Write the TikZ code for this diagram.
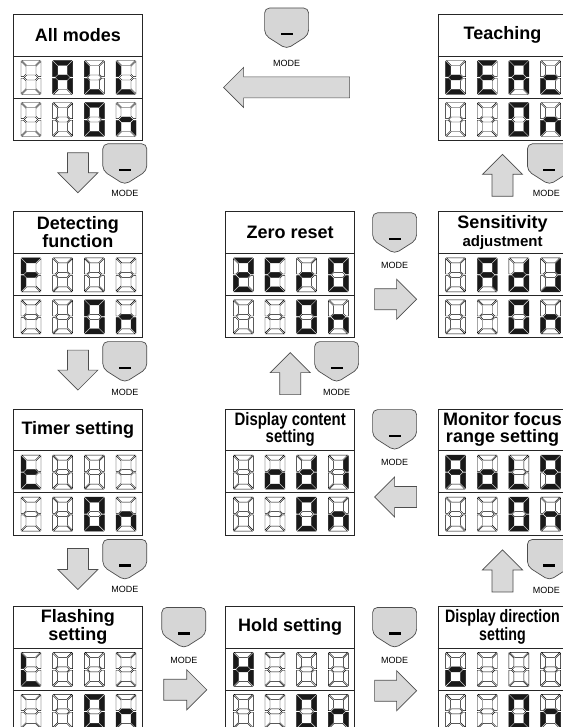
\documentclass[tikz,border=0pt]{standalone}
\usepackage{fontspec}
\setmainfont{Liberation Sans}
\newfontfamily\narrowsans[FakeStretch=0.83]{Liberation Sans}
\newfontfamily\narrowersans[FakeStretch=0.79]{Liberation Sans}
\usetikzlibrary{positioning, calc}
\definecolor{keygray}{RGB}{214,214,214}
\definecolor{arrowgray}{RGB}{217,217,217}
\definecolor{edgegray}{RGB}{77,77,77}
\definecolor{segdark}{RGB}{25,25,25}
\tikzset{
  lcd/panel/.style={rectangle, draw=black!85, fill=white, line width=0.8pt,
    minimum width=129pt, minimum height=126pt, inner sep=0pt},
  lcd/rule/.style={draw=black!85, line width=0.8pt},
  lcd/title/.style={font=\bfseries\fontsize{18}{17.5}\selectfont,
    align=center, inner sep=0pt},
  lcd/narrow/.style={font=\narrowsans\bfseries\fontsize{18}{17.5}\selectfont},
  lcd/narrower/.style={font=\narrowersans\bfseries\fontsize{18}{17.5}\selectfont},
  lcd/on/.style={fill=segdark, draw=segdark, line width=0.4pt},
  lcd/off/.style={fill=white, draw=black, line width=0.4pt},
  key/face/.style={fill=keygray, draw=edgegray, line width=0.7pt,
    rounded corners=5pt},
  key/lbl/.style={font=\fontsize{9}{9}\selectfont, inner sep=0pt},
  blk/face/.style={fill=arrowgray, draw=edgegray, line width=0.7pt},
  blkarrow/.pic={
    \draw[blk/face] (0,-10.5) -- (#1-20,-10.5) -- (#1-20,-20) -- (#1,0)
      -- (#1-20,20) -- (#1-20,10.5) -- (0,10.5) -- cycle;},
  modekey/.pic={
    \draw[key/face] (0,41) -- (-22,27) -- (-22,0) -- (22,0) -- (22,27) -- cycle;
    \fill (-6,25) rectangle (6,27.5);
    \node[key/lbl] (-lbl) at (#1) {MODE};}
}
\makeatletter
\newcommand\lcdtest[2]{\in@{#2}{#1}}
\newcommand\lcdseg[2]{%
  \expandafter\lcdtest\expandafter{\lcdlit}{#1}%
  \ifin@\filldraw[lcd/on] #2;\else\filldraw[lcd/off] #2;\fi}
\makeatother
\newcommand\lcddigit[1]{%
  \edef\lcdlit{#1}%
  \lcdseg{a}{(0.8,0) -- (19.2,0) -- (14.2,5) -- (5.8,5) -- cycle}%
  \lcdseg{b}{(20,0.8) -- (15,5.8) -- (15,13.7) -- (17.5,16.2) -- (20,16.2) -- cycle}%
  \lcdseg{c}{(20,17.8) -- (17.5,17.8) -- (15,20.3) -- (15,28.2) -- (20,33.2) -- cycle}%
  \lcdseg{d}{(0.8,34) -- (19.2,34) -- (14.2,29) -- (5.8,29) -- cycle}%
  \lcdseg{e}{(0,17.8) -- (2.5,17.8) -- (5,20.3) -- (5,28.2) -- (0,33.2) -- cycle}%
  \lcdseg{f}{(0,0.8) -- (5,5.8) -- (5,13.7) -- (2.5,16.2) -- (0,16.2) -- cycle}%
  \lcdseg{g}{(3.3,17) -- (5.8,14.5) -- (14.2,14.5) -- (16.7,17) -- (14.2,19.5) -- (5.8,19.5) -- cycle}}
\newcommand\lcdpanel[6][]{%
  \node[lcd/panel, #3] (#2) {};
  \draw[lcd/rule] ($(#2.north west)+(0,42)$) -- ($(#2.north east)+(0,42)$);
  \draw[lcd/rule] ($(#2.north west)+(0,84)$) -- ($(#2.north east)+(0,84)$);
  \node[lcd/title, #1] (#2-t) at ($(#2.north)+(0,21)$) {#4};
  \foreach \dg [count=\i from 0] in {#5} {
    \begin{scope}[shift={($(#2.north west)+(8+31.67*\i,46.5)$)}]
      \lcddigit{\dg}
    \end{scope}}
  \foreach \dg [count=\i from 0] in {#6} {
    \begin{scope}[shift={($(#2.north west)+(8+31.67*\i,88.5)$)}]
      \lcddigit{\dg}
    \end{scope}}}
\begin{document}
\begin{tikzpicture}[x=1pt, y=-1pt, node distance=70.5pt and 82.5pt]
  \useasboundingbox[fill=white] (0,0) rectangle (562,727);

  \lcdpanel{allm}{anchor=north west, at={(13,14)}}{All modes}{x,abcefg,def,def}{x,x,abcdef,ceg}
  \lcdpanel{detect}{below=of allm}{Detecting\\function}{aefg,x,x,x}{x,x,abcdef,ceg}
  \lcdpanel{timer}{below=of detect}{Timer setting}{defg,x,x,x}{x,x,abcdef,ceg}
  \lcdpanel{flash}{below=of timer}{Flashing\\setting}{def,x,x,x}{x,x,abcdef,ceg}
  \lcdpanel{hold}{right=of flash}{Hold setting}{bcefg,x,x,x}{x,x,abcdef,ceg}
  \lcdpanel[lcd/narrower]{dirset}{right=of hold}{Display direction\\setting}{cdeg,x,x,x}{x,x,abcdef,ceg}
  \lcdpanel{monitor}{above=of dirset}{Monitor focus\\range setting}{abcefg,cdeg,def,abcdfg}{x,x,abcdef,ceg}
  \lcdpanel[lcd/narrow]{content}{left=of monitor}{Display content\\setting}{x,cdeg,bcdeg,bc}{x,x,abcdef,ceg}
  \lcdpanel{zero}{above=of content}{Zero reset}{abdeg,adefg,eg,abcdef}{x,x,abcdef,ceg}
  \lcdpanel{sens}{right=of zero}{Sensitivity\\{\fontsize{15}{15}\selectfont adjustment}}{x,abcefg,bcdeg,bcd}{x,x,abcdef,ceg}
  \lcdpanel{teach}{above=of sens}{Teaching}{defg,adefg,abcefg,deg}{x,x,abcdef,ceg}

  \pic[rotate=180] at ($(teach.west)+(-88,10)$) {blkarrow=126};
  \pic[rotate=-90] at ($(allm.south)+(0,12)$) {blkarrow=40};
  \pic[rotate=-90] at ($(detect.south)+(0,12)$) {blkarrow=40};
  \pic[rotate=-90] at ($(timer.south)+(0,13)$) {blkarrow=41};
  \pic at ($(flash.east)+(21,20.5)$) {blkarrow=43};
  \pic at ($(hold.east)+(19.5,21.5)$) {blkarrow=42};
  \pic[rotate=90] at ($(dirset.north)+(0,-14)$) {blkarrow=42};
  \pic[rotate=180] at ($(monitor.west)+(-21,25)$) {blkarrow=42};
  \pic[rotate=90] at ($(content.north)+(0,-14)$) {blkarrow=42};
  \pic at ($(zero.east)+(19.5,24.5)$) {blkarrow=42};
  \pic[rotate=90] at ($(sens.north)+(0,-15)$) {blkarrow=42};

  \pic (k1) at ($(teach.north west)+(-151,-6)$) {modekey={0,55}};
  \pic (k2) at ($(allm.south east)+(-18,3)$) {modekey={0,50}};
  \pic (k3) at ($(detect.south east)+(-18,3.5)$) {modekey={0,51}};
  \pic (k4) at ($(timer.south east)+(-18,4)$) {modekey={0,50}};
  \pic (k5) at ($(flash.north east)+(41,1.5)$) {modekey={0,53}};
  \pic (k6) at ($(hold.north east)+(39.5,1.5)$) {modekey={0,53}};
  \pic (k7) at ($(monitor.south east)+(-18,4)$) {modekey={-3,51}};
  \pic (k8) at ($(content.north east)+(39.5,1)$) {modekey={0,53}};
  \pic (k9) at ($(zero.south east)+(-18.5,3.5)$) {modekey={0,51}};
  \pic (k10) at ($(zero.north east)+(39.5,1.5)$) {modekey={0,53}};
  \pic (k11) at ($(teach.south east)+(-18,3)$) {modekey={-3,50}};
\end{tikzpicture}
\end{document}
